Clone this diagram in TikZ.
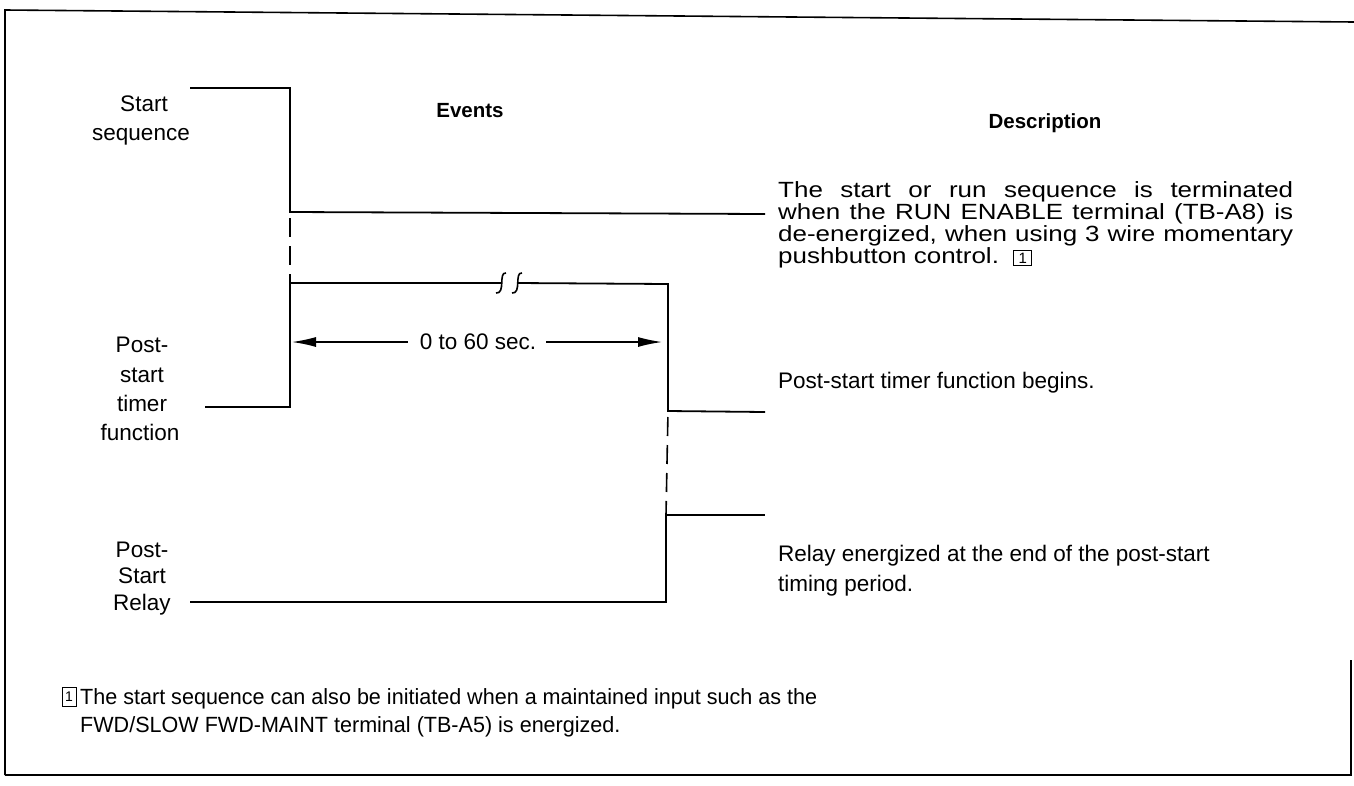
\documentclass[tikz,border=0pt]{standalone}
\usepackage{fontspec}
\setmainfont{Liberation Sans}
\newfontfamily\parafont[FakeStretch=1.18]{Liberation Sans}
\newfontfamily\notefont[FakeStretch=0.98]{Liberation Sans}
\usetikzlibrary{arrows.meta}
\tikzset{
  wave/.style={line width=1.8pt, line join=miter},
  guide/.style={line width=1.6pt, dash pattern=on 19pt off 9pt},
  lbl/.style={font=\fontsize{22.5}{22.5}\selectfont, inner sep=0pt, anchor=base},
  hdr/.style={font=\bfseries\fontsize{20.5}{20.5}\selectfont, inner sep=0pt, anchor=base},
  desc/.style={font=\fontsize{22.5}{22.5}\selectfont, inner sep=0pt, anchor=base west},
  note/.style={font=\notefont\fontsize{22}{22}\selectfont, inner sep=0pt, anchor=base west},
  framebox/.style={line width=1.6pt},
  dimarrow/.style={line width=1.3pt, -{Latex[length=24pt,width=10pt]}},
  breakmark/.style={line width=1.6pt},
  numbox/.style={draw, line width=0.9pt, inner sep=0pt, minimum width=14pt, minimum height=19pt, font=\fontsize{14}{14}\selectfont},
}
\newcommand{\numone}{\setlength{\fboxsep}{1.8pt}\setlength{\fboxrule}{0.9pt}\fbox{\normalfont\fontsize{15}{15}\selectfont\,1\,}}
\begin{document}
\begin{tikzpicture}[x=1pt,y=-1pt]
\useasboundingbox (0,0) rectangle (1354,785);
% frame
\coordinate (fa) at (5,775);
\coordinate (fb) at (5,10);
\coordinate (fc) at (1354,22);
\coordinate (fd) at (1351,775);
\coordinate (fe) at (1351,660);
\draw[framebox] (fa) -- (fb) -- (fc);
\draw[framebox] (fa) -- (fd) -- (fe);

% headers
\node[hdr] (events) at (470,117) {Events};
\node[hdr] (descr) at (1045,128) {Description};

% left labels
\node[lbl] (l1a) at (144,111) {Start};
\node[lbl] (l1b) at (141,140) {sequence};
\node[lbl] (l2a) at (142,352) {Post-};
\node[lbl] (l2b) at (142,382) {start};
\node[lbl] (l2c) at (142,411) {timer};
\node[lbl] (l2d) at (140,440) {function};
\node[lbl] (l3a) at (142,557) {Post-};
\node[lbl] (l3b) at (142,583) {Start};
\node[lbl] (l3c) at (142,610) {Relay};

% start sequence waveform
\coordinate (s0) at (190,88);
\coordinate (s1) at (290,88);
\coordinate (s2) at (290,212);
\coordinate (s3) at (765,214);
\draw[wave] (s0) -- (s1) -- (s2) -- (s3);

% post-start timer waveform
\coordinate (t0) at (205,407);
\coordinate (t1) at (290,407);
\coordinate (t2) at (290,283);
\coordinate (b1) at (501,283);
\coordinate (b2) at (517,283);
\coordinate (t3) at (668,284);
\coordinate (t4) at (668,411);
\coordinate (t5) at (765,412);
\draw[wave] (t0) -- (t1) -- (t2) -- (b1);
\draw[wave] (b2) -- (t3) -- (t4) -- (t5);
\draw[breakmark] (506,273) .. controls (498,272) and (506,294) .. (496,293);
\draw[breakmark] (522,273) .. controls (514,272) and (522,294) .. (512,293);

% post-start relay waveform
\coordinate (r0) at (190,602);
\coordinate (r1) at (666,602);
\coordinate (r2) at (666,515);
\coordinate (r3) at (765,515);
\draw[wave] (r0) -- (r1) -- (r2) -- (r3);

% dashed guides
\draw[guide, shorten <=6pt] (s2) -- (t2);
\draw[guide, shorten <=6pt] (t4) -- (r2);

% timing dimension
\node[font=\fontsize{22.5}{22.5}\selectfont, inner sep=0pt] (sec) at (478,342) {0 to 60 sec.};
\coordinate (al) at (292,342);
\coordinate (ar) at (662,342);
\draw[dimarrow] ([xshift=-12pt]sec.west) -- (al);
\draw[dimarrow] ([xshift=10pt]sec.east) -- (ar);

% descriptions
\node[anchor=north west, inner sep=0pt, text width=515pt, align=justify,
      font=\parafont\fontsize{22}{22}\selectfont] (desc1) at (778,181)
  {The start or run sequence is terminated\linebreak
   when the RUN ENABLE terminal (TB-A8) is\linebreak
   de-energized, when using 3 wire momentary\linebreak
   pushbutton control.\ \ \numone};
\node[desc] (desc2) at (778,388) {Post-start timer function begins.};
\node[desc] (desc3a) at (778,561) {Relay energized at the end of the post-start};
\node[desc] (desc3b) at (778,591) {timing period.};

% footnote
\node[numbox] (fnbox) at (69,697) {1};
\node[note] (fn1) at (80,704) {The start sequence can also be initiated when a maintained input such as the};
\node[note] (fn2) at (80,732) {FWD/SLOW FWD-MAINT terminal (TB-A5) is energized.};
\end{tikzpicture}
\end{document}
